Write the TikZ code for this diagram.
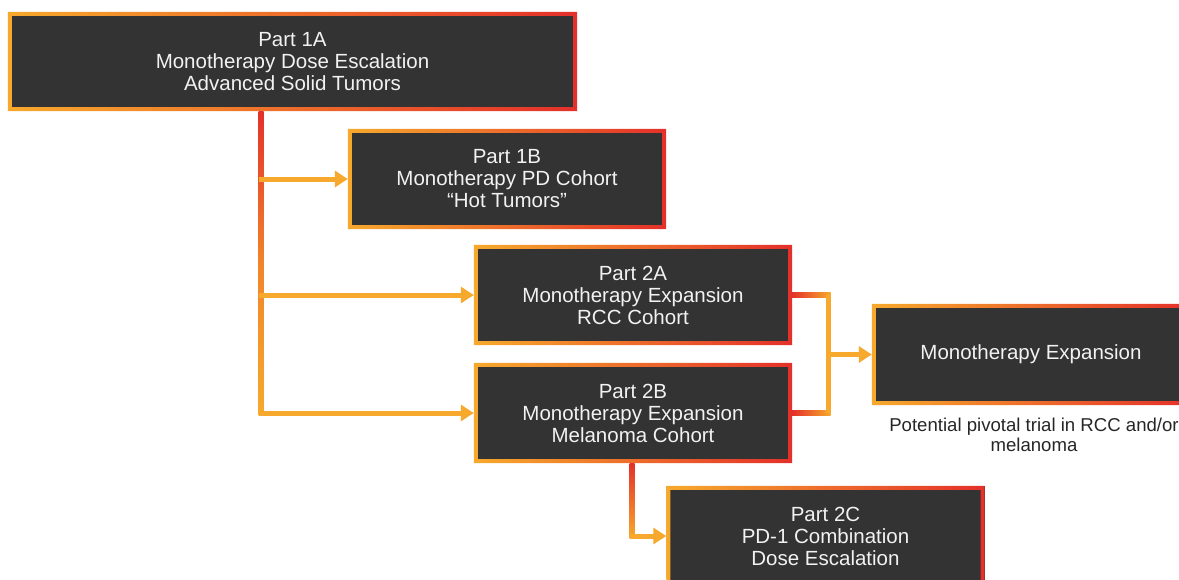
\documentclass[tikz,border=0pt]{standalone}
\usepackage{fontspec}
\setmainfont{Liberation Sans}
\usetikzlibrary{arrows.meta,calc}
\definecolor{cOr}{HTML}{F6A92C}
\definecolor{cRed}{HTML}{E4302A}
\definecolor{cDark}{HTML}{333333}
\newcommand\gradframe[1]{\shade[left color=cOr, right color=cRed, even odd rule]
  (#1.south west) rectangle (#1.north east)
  ($(#1.south west)+(4pt,4pt)$) rectangle ($(#1.north east)+(-4pt,-4pt)$);}
\tikzset{
  boxnode/.style={fill=cDark, draw=none, inner sep=0pt, minimum width=318pt, minimum height=100pt,
    align=center, text=white!95!black, font=\fontsize{20.5}{22}\selectfont},
  conn/.style={draw=cOr, line width=5pt},
  arr/.style={conn, -{Triangle[length=13pt,width=16pt]}},
  captext/.style={align=center, text=black!85, font=\fontsize{18.6}{20}\selectfont}
}
\begin{document}
\begin{tikzpicture}[x=1pt,y=-1pt]
\useasboundingbox (0,0) rectangle (1179,579);
% boxes
\node[boxnode, minimum width=569pt, minimum height=99pt] (A1) at (292.5,61.5) {Part 1A\\Monotherapy Dose Escalation\\Advanced Solid Tumors};
\node[boxnode] (B1) at (507,179) {Part 1B\\Monotherapy PD Cohort\\“Hot Tumors”};
\node[boxnode] (A2) at (633,295) {Part 2A\\Monotherapy Expansion\\RCC Cohort};
\node[boxnode] (B2) at (633,413) {Part 2B\\Monotherapy Expansion\\Melanoma Cohort};
\node[boxnode, minimum height=101pt] (ME) at (1031,354.5) {Monotherapy Expansion};
\node[boxnode] (C2) at (825.5,536) {Part 2C\\PD-1 Combination\\Dose Escalation};
\foreach \n in {A1,B1,A2,B2,ME,C2}{\gradframe{\n}}
\node[captext, anchor=north] (cap) at ($(ME.south)+(3pt,-9pt)$) {Potential pivotal trial in RCC and/or\\melanoma};
% trunk from Part 1A
\coordinate (tr) at (261,0);
\shade[top color=cRed, bottom color=cOr, middle color=cOr!70!cRed]
  ($(A1.south -| tr)+(-2.5pt,0pt)$) rectangle ($(B2.west -| tr)+(2.5pt,-2.5pt)$);
\draw[arr] ($(tr |- B1.west)+(-2.5pt,0pt)$) -- (B1.west);
\draw[arr] ($(tr |- A2.west)+(-2.5pt,0pt)$) -- (A2.west);
\draw[arr] ($(tr |- B2.west)+(-2.5pt,0pt)$) -- (B2.west);
% bracket from 2A and 2B to Monotherapy Expansion
\coordinate (bx) at (828,0);
\coordinate (bm) at (828,354.5);
\shade[left color=cRed, right color=cOr] ($(A2.east)+(0pt,2.5pt)$) rectangle ($(bx |- A2.east)+(2.5pt,-2.5pt)$);
\shade[left color=cRed, right color=cOr] ($(B2.east)+(0pt,2.5pt)$) rectangle ($(bx |- B2.east)+(2.5pt,-2.5pt)$);
\draw[conn] (bx |- A2.east) -- (bx |- B2.east);
\draw[arr] ($(bm)+(-2.5pt,0pt)$) -- (ME.west);
% 2B to 2C
\coordinate (cx) at (632,0);
\shade[top color=cRed, bottom color=cOr] ($(B2.south -| cx)+(-2.5pt,0pt)$) rectangle ($(C2.west -| cx)+(2.5pt,-2.5pt)$);
\draw[arr] ($(cx |- C2.west)+(-2.5pt,0pt)$) -- (C2.west);
\end{tikzpicture}
\end{document}
